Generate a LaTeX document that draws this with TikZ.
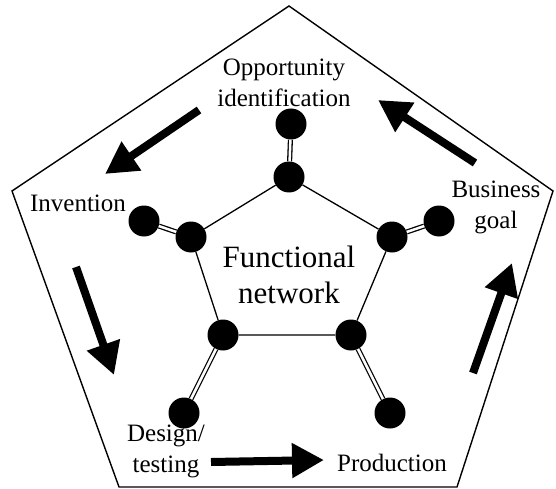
\documentclass[tikz,border=0pt]{standalone}
\usepackage{fontspec}
\setmainfont{Liberation Serif}
\usetikzlibrary{arrows.meta}
\tikzset{
  ball/.style={circle,fill=black,inner sep=0pt,minimum size=31pt},
  lbl/.style={align=center,font=\fontsize{25}{31}\selectfont,inner sep=0pt},
  bond/.style={double,double distance=2.5pt,line width=1.3pt},
  flow/.style={line width=8pt,-{Triangle[length=32pt,width=33pt]}}
}
\begin{document}
\begin{tikzpicture}[x=1pt,y=-1pt]
  \useasboundingbox (0,0) rectangle (556,489);
  % frame
  \draw[line width=1.4pt] (289,6) -- (553,191) -- (457,487) -- (119,487) -- (12,191) -- cycle;
  % ring
  \node[ball] (i1) at (289,177) {};
  \node[ball] (i2) at (392,237) {};
  \node[ball] (i3) at (351,335) {};
  \node[ball] (i4) at (223,335) {};
  \node[ball] (i5) at (191,237) {};
  \node[ball] (o1) at (291,124) {};
  \node[ball] (o2) at (439,221) {};
  \node[ball] (o3) at (390,413) {};
  \node[ball] (o4) at (184,413) {};
  \node[ball] (o5) at (144,221) {};
  \draw[line width=1.3pt] (i1) -- (i2) -- (i3) -- (i4) -- (i5) -- (i1);
  \draw[bond] (i1) -- (o1);
  \draw[bond] (i2) -- (o2);
  \draw[bond] (i3) -- (o3);
  \draw[bond] (i4) -- (o4);
  \draw[bond] (i5) -- (o5);
  % labels
  \node[lbl] (opp) at (284,83) {Opportunity\\identification};
  \node[lbl] (inv) at (78,203) {Invention};
  \node[lbl] (des) at (166,451) {Design/\\testing};
  \node[lbl] (pro) at (392,463) {Production};
  \node[lbl] (bus) at (496,207) {Business\\goal};
  \node[lbl,font=\fontsize{31}{36}\selectfont] (fun) at (289,275) {Functional\\network};
  % cycle arrows
  \coordinate (a1) at (199,110);  \coordinate (b1) at (105,174);
  \coordinate (a2) at (76,267);   \coordinate (b2) at (114,375);
  \coordinate (a3) at (211,462);  \coordinate (b3) at (324,460);
  \coordinate (a4) at (473,373);  \coordinate (b4) at (512,263);
  \coordinate (a5) at (475,163);  \coordinate (b5) at (378,100);
  \draw[flow] (a1) -- (b1);
  \draw[flow] (a2) -- (b2);
  \draw[flow] (a3) -- (b3);
  \draw[flow] (a4) -- (b4);
  \draw[flow] (a5) -- (b5);
\end{tikzpicture}
\end{document}
